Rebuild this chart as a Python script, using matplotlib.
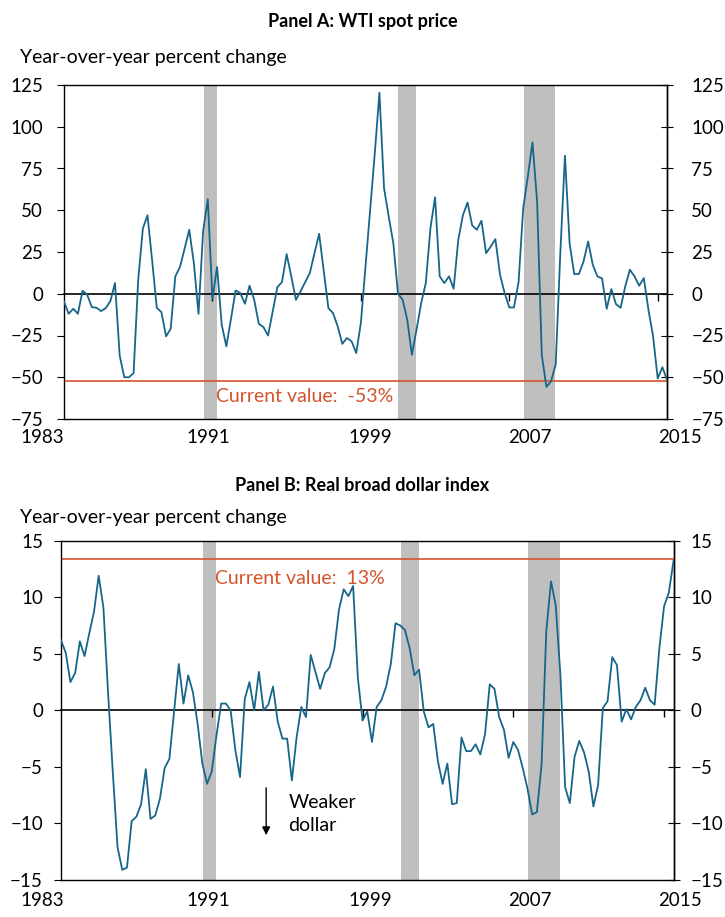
import matplotlib
matplotlib.use("Agg")
import matplotlib.pyplot as plt
import numpy as np

plt.rcParams['font.family'] = ['Lato', 'DejaVu Sans']
plt.rcParams['font.size'] = 13

# quarterly, 1983Q1 .. 2015Q3
years = [1983, 1991, 1999, 2007, 2015]
recessions = [("1990Q3", "1991Q1"), ("2001Q1", "2001Q4"), ("2007Q4", "2009Q2")]

wti = [-4.6, -12, -9, -12, 1.8, -0.6, -8, -8.4, -10.4, -8.6,
       -4.4, 6.4, -37, -50, -50, -47.5, 8.4, 39, 47, 20,
       -8.4, -11, -25.5, -21, 10.4, 16, 27, 38.3, 18.3, -12,
       37.7, 56.6, -3, 16, -18.5, -31.5, -15, 2, 0.4, -6,
       4.8, -3.6, -18, -20, -25, -10.6, 4, 7, 23.7, 10.4,
       -3.6, 1.4, 7, 12.4, 24.3, 35.9, 13.4, -8.6, -11.6, -19.5,
       -30, -26.5, -28.5, -35.5, -17.5, 16.3, 50, 84, 120.4, 63.2,
       46.3, 30.3, 0, -3.6, -15.5, -36.5, -21.5, -5.6, 6.4, 39.3,
       57.8, 10.4, 6.4, 10.4, 3, 32.3, 47, 54.6, 40.9, 38.3,
       43.7, 24.3, 28.3, 32.7, 11.4, 0.4, -8.2, -8.2, 7, 51.2,
       70.2, 90.7, 55.2, -36.5, -55.8, -52.4, -42.5, 24.3, 82.7, 30.3,
       11.8, 11.8, 19.3, 31.3, 17.3, 10.4, 9.2, -9, 2.8, -6.2,
       -8.4, 4.4, 14.4, 10.4, 4.8, 9.4, -9.6, -25.5, -50.8, -44,
       -51.5]

dollar = [6.2, 5.1, 2.5, 3.3, 6.1, 4.8, 6.8, 8.7, 11.9, 9.1,
          1.5, -5.5, -12.1, -14.1, -13.9, -9.8, -9.4, -8.3, -5.2, -9.6,
          -9.3, -7.8, -5.1, -4.3, -0.1, 4.1, 0.6, 3.1, 1.6, -1.2,
          -4.7, -6.5, -5.4, -2.2, 0.6, 0.6, 0, -3.5, -5.9, 1.0,
          2.5, 0, 3.4, 0, 0.5, 2.1, -1.0, -2.5, -2.5, -6.2,
          -2.4, 0.3, -0.6, 4.9, 3.4, 1.9, 3.3, 3.8, 5.4, 8.9,
          10.7, 10.1, 11.0, 2.9, -0.9, -0.1, -2.8, 0.3, 0.9, 2.1,
          4.1, 7.7, 7.5, 7.1, 5.5, 3.1, 3.6, -0.1, -1.5, -1.2,
          -4.5, -6.5, -4.7, -8.3, -8.2, -2.4, -3.6, -3.6, -3.0, -3.9,
          -2.1, 2.3, 1.9, -0.6, -1.7, -4.2, -2.8, -3.5, -5.1, -6.9,
          -9.2, -9.0, -4.8, 7.0, 11.4, 9.3, 3.1, -6.8, -8.2, -4.1,
          -2.7, -3.7, -5.4, -8.5, -6.6, 0.2, 0.8, 4.7, 4.0, -1.0,
          0.1, -0.8, 0.3, 0.9, 2.0, 0.9, 0.5, 5.5, 9.2, 10.4,
          13.2]

wti_current = -52.5
dollar_current = 13.4

line_color = "#17668A"
cur_color = "#D4532B"
shade = "#BFBFBF"

# centres of the year labels (figure pixels), as they sit in the original
label_px = [42, 208, 370, 530, 680]


def qidx(s):
    y, q = s.split("Q")
    return (int(y) - 1983) * 4 + int(q) - 1


def draw(ax, box, vals, cur, ylim, yticks, cur_text, text_y, lab_y, lpad, rpad):
    n = len(vals) - 1
    x = np.arange(len(vals))
    for s, e in recessions:
        ax.axvspan(qidx(s) + 0.1, qidx(e) + 0.9, color=shade, lw=0, zorder=0)
    ax.plot(x, vals, color=line_color, lw=1.3, zorder=3)
    ax.axhline(cur, color=cur_color, lw=1.2, zorder=2)
    ax.text(0.252, text_y, cur_text, transform=ax.transAxes, color=cur_color,
            fontsize=14, va='center', ha='left')
    ax.set_xlim(0, n)
    ax.set_ylim(*ylim)
    ax.set_yticks(yticks)
    ax.tick_params(axis='y', direction='out', length=5, left=True, right=False,
                   labelleft=True, labelsize=13.5, pad=lpad)
    right = ax.secondary_yaxis('right')
    right.set_yticks(yticks)
    right.tick_params(direction='inout', length=9, labelsize=13.5, pad=rpad)
    right.spines['right'].set_linewidth(1)
    ax.set_xticks([])
    tick_pos = [(y - 1983) * 4 for y in years]
    left_px, width_px = box
    for yr, px in zip(years, label_px):
        ax.text((px - left_px) / width_px, lab_y, str(yr), transform=ax.transAxes,
                ha='center', va='center', fontsize=13.5)
    for sp in ax.spines.values():
        sp.set_linewidth(1)
        sp.set_color('black')
    # zero line with ticks
    zero = ax.secondary_xaxis(0, transform=ax.transData)
    zero.set_xticks(tick_pos[1:])
    zero.tick_params(length=5, direction='out', labelbottom=False, width=1)
    zero.spines['bottom'].set_linewidth(1.2)


fig = plt.figure(figsize=(7.25, 9.17), dpi=100)
axA = fig.add_axes([64 / 725, 1 - 419 / 917, 603 / 725, 334 / 917])
axB = fig.add_axes([61 / 725, 1 - 880 / 917, 612.5 / 725, 339.3 / 917])

draw(axA, (64, 603), wti, wti_current, (-75, 125), np.arange(-75, 126, 25),
     "Current value:  -53%", 0.066, -0.054, 10, 13)
draw(axB, (61, 612.5), dollar, dollar_current, (-15, 15), np.arange(-15, 16, 5),
     "Current value:  13%", 0.89, -0.059, 8, 8)

fig.text(0.5, 1 - 22 / 917, "Panel A: WTI spot price", ha='center', va='center',
         fontweight='bold', fontsize=13)
fig.text(20 / 725, 1 - 58 / 917, "Year-over-year percent change", ha='left',
         va='center', fontsize=14)
fig.text(0.5, 1 - 486 / 917, "Panel B: Real broad dollar index", ha='center',
         va='center', fontweight='bold', fontsize=13)
fig.text(20 / 725, 1 - 517 / 917, "Year-over-year percent change", ha='left',
         va='center', fontsize=14)

axB.annotate("", xy=(0.335, 0.124), xytext=(0.335, 0.28), xycoords='axes fraction',
             arrowprops=dict(arrowstyle='-|>', color='black', lw=1, mutation_scale=12))
axB.text(0.371, 0.195, "Weaker\ndollar", transform=axB.transAxes, fontsize=14,
         va='center', ha='left', linespacing=1.45)

fig.savefig("out.png", dpi=100)
